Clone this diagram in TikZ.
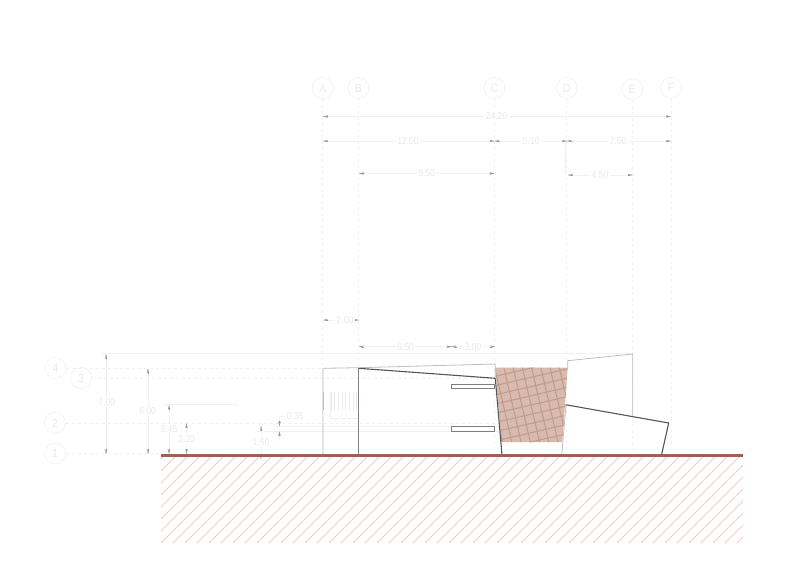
\documentclass[tikz,border=0pt]{standalone}
\usepackage{fontspec}
\setmainfont{Liberation Sans}
\newfontfamily\dimfont[FakeStretch=0.85]{Liberation Sans}
\usetikzlibrary{arrows.meta,calc}
\definecolor{faint}{HTML}{F1F1F1}
\definecolor{fainttext}{HTML}{E9E9E9}
\definecolor{dimtip}{HTML}{9A9A9A}
\definecolor{wallgray}{HTML}{BDBDBD}
\definecolor{walldark}{HTML}{555555}
\definecolor{earth}{HTML}{A2614C}
\definecolor{earthhatch}{HTML}{EBC8C0}
\definecolor{paving}{HTML}{D8BAAF}
\definecolor{pavingline}{HTML}{C09A8D}
\definecolor{stairline}{HTML}{F3E8E4}
\tikzset{
  axisbubble/.style={circle,draw=faint,line width=.7pt,minimum size=21pt,inner sep=0pt,text=fainttext,font=\dimfont\fontsize{12}{12}\selectfont},
  axisline/.style={draw=faint,line width=.8pt,dash pattern=on 3pt off 3pt},
  extline/.style={draw=faint,line width=.7pt},
  dimtipline/.style={draw=dimtip,line width=.2pt,-{Stealth[length=5pt,width=2.4pt,color=dimtip]}},
  dimtext/.style={fill=white,inner sep=1.5pt,text=fainttext,font=\dimfont\fontsize{10}{10}\selectfont},
  lightwall/.style={draw=wallgray,line width=.8pt},
  darkwall/.style={draw=walldark,line width=1.1pt},
}
\begin{document}
\begin{tikzpicture}[x=1pt,y=-1pt]
\useasboundingbox (0,0) rectangle (800,560);
% axes
\foreach \n/\l/\x/\y in {a/A/322.7/88,b/B/358.5/88,c/C/494.4/88,d/D/566.8/88,e/E/632.3/89.3,f/F/671/87.8}{
  \node[axisbubble] (ax\n) at (\x,\y) {\l};
  \coordinate (axe\n) at (\x,455);
  \draw[axisline] (ax\n) -- (axe\n);
}
\foreach \n/\l/\x/\y/\e in {four/4/55.5/368/323,three/3/81/378/500,two/2/55/423/500,one/1/55/453.5/161}{
  \node[axisbubble] (lv\n) at (\x,\y) {\l};
  \coordinate (lve\n) at (\e,\y);
  \draw[axisline] (lv\n) -- (lve\n);
}
% extension lines
\coordinate (e7a) at (102,353.5); \coordinate (e7b) at (633,353.5);
\coordinate (e3a) at (165,404.5); \coordinate (e3b) at (238,404.5);
\coordinate (e0a) at (275,426.6); \coordinate (e0b) at (500,426.6);
\coordinate (e1a) at (257,431); \coordinate (e1b) at (500,431);
\coordinate (e2a) at (565.7,141); \coordinate (e2b) at (565.7,174);
\foreach \p/\q in {e7a/e7b,e3a/e3b,e0a/e0b,e1a/e1b,e2a/e2b}{\draw[extline] (\p) -- (\q);}
% dimensions: horizontal and vertical
\foreach \n/\xa/\ya/\xb/\yb/\t/\tx/\ty in {
  da/323/116.5/671/116.5/24.20/496.5/116.5,
  db/323/141/494.5/141/12.00/408/141,
  dc/494.5/141/566.8/141/5.10/531/141,
  dd/566.8/141/671/141/7.50/618/141,
  de/359/173.5/494.5/173.5/9.50/426.7/173.5,
  df/568/175/632.5/175/4.50/600/175,
  dg/323/320/359/320/2.00/345/320,
  dh/359/346.7/451.5/346.7/6.50/405.7/346.7,
  di/451.5/346.7/495/346.7/3.00/473/346.7,
  dj/106/354/106/454/7.00/106.7/401.7,
  dk/148/368.5/148/454/6.00/147.7/411,
  dl/169/405/169/454/3.45/169/429,
  dm/186.5/423/186.5/454/2.20/186.7/438.7,
  dn/261/426/261/459/1.60/261/441.7}{
  \coordinate (\n a) at (\xa,\ya);
  \coordinate (\n b) at (\xb,\yb);
  \draw[extline] (\n a) -- (\n b);
  \draw[dimtipline] ($(\n a)!5pt!(\n b)$) -- (\n a);
  \draw[dimtipline] ($(\n b)!5pt!(\n a)$) -- (\n b);
  \node[dimtext] (\n t) at (\tx,\ty) {\t};
}
% 0.35 dimension with leader
\coordinate (oa) at (279.5,417); \coordinate (ob) at (279.5,426.3);
\coordinate (oc) at (279.5,441); \coordinate (od) at (279.5,431.3);
\draw[extline] (oa) -- (ob);
\draw[extline] (oc) -- (od);
\draw[dimtipline] ($(ob)!5pt!(oa)$) -- (ob);
\draw[dimtipline] ($(od)!5pt!(oc)$) -- (od);
\node[dimtext,fill=none] (ot) at (295,416) {0.35};
\draw[extline] (oa) -- (ot.west);
% paving
\coordinate (pa) at (495.3,367.7); \coordinate (pb) at (567.7,367.7);
\coordinate (pc) at (562.3,442); \coordinate (pd) at (501.3,442);
\begin{scope}
\clip (pa) -- (pb) -- (pc) -- (pd) -- cycle;
\fill[paving] (490,360) rectangle (570,445);
\begin{scope}[shift={(531,405)},rotate=13]
\foreach \k in {-8,...,8}{
  \draw[pavingline,line width=1pt] (\k*9,-70) -- (\k*9,70);
  \draw[pavingline,line width=1pt] (-70,\k*9) -- (70,\k*9);
}
\end{scope}
\end{scope}
% left annexe and stair
\draw[lightwall] (323,455) -- (323,368.3) -- (358.7,367.7) -- (495.3,364) -- (495.3,378);
\draw[draw=wallgray,line width=1pt] (323,392) -- (323,410);
\draw[draw=faint,line width=.6pt] (330,392) -- (330,418) -- (358,418);
\foreach \x in {331,334.7,...,357}{\draw[draw=stairline,line width=1pt] (\x,392) -- (\x,410);}
% main block
\draw[draw=gray,line width=1.4pt] (358.7,368.3) -- (358.7,455);
\draw[darkwall] (358.7,368.3) -- (495.3,378.3);
\draw[darkwall] (495.3,378.3) -- (502,455);
\draw[draw=gray,line width=.8pt,fill=white] (451.5,384) rectangle (494.7,388.5);
\draw[draw=gray,line width=.8pt,fill=white] (451.5,426.7) rectangle (494.7,431.3);
% right blocks
\draw[lightwall] (567.7,368) -- (567.7,360.7) -- (632.7,354) -- (632.7,416);
\draw[lightwall] (566,405) -- (561.7,455);
\draw[darkwall] (565.5,404.7) -- (668.7,423) -- (661.5,455);
% ground hatch
\begin{scope}
\clip (161,457) rectangle (743,543);
\foreach \k in {-8,...,56}{
  \draw[draw=earthhatch,line width=1pt,dash pattern=on 1.2pt off .5pt] (161+\k*12,543) -- (161+\k*12+86,457);
}
\end{scope}
\fill[earth] (161,453.8) rectangle (743,457.2);
\end{tikzpicture}
\end{document}
